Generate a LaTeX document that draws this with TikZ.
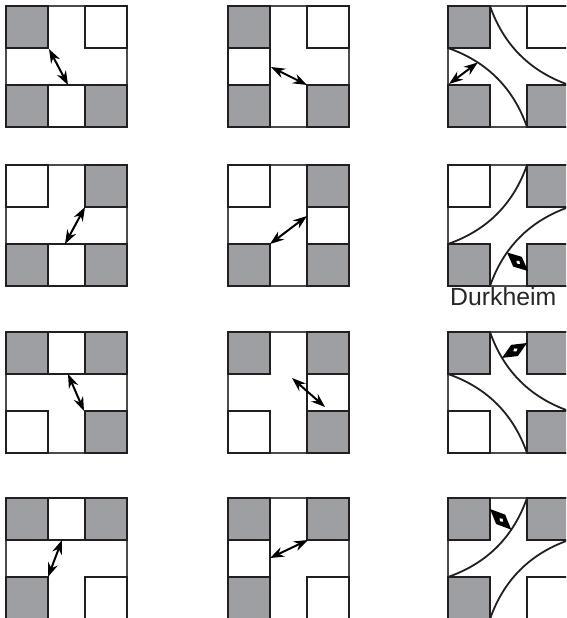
\documentclass[tikz,border=0pt]{standalone}
\usepackage{fontspec}
\newfontfamily\arialfont{Liberation Sans}
\usetikzlibrary{arrows.meta,calc}
\definecolor{sqgray}{HTML}{9D9FA2}
\definecolor{sqedge}{HTML}{231F20}
\newcommand\sqTL[1]{\draw[#1] (0,0) rectangle (42,42);}
\newcommand\sqTM[1]{\draw[#1] (42,0) rectangle (79,42);}
\newcommand\sqTR[1]{\draw[#1] (79,0) rectangle (121,42);}
\newcommand\sqML[1]{\draw[#1] (0,42) rectangle (42,79);}
\newcommand\sqMR[1]{\draw[#1] (79,42) rectangle (121,79);}
\newcommand\sqBL[1]{\draw[#1] (0,79) rectangle (42,121);}
\newcommand\sqBM[1]{\draw[#1] (42,79) rectangle (79,121);}
\newcommand\sqBR[1]{\draw[#1] (79,79) rectangle (121,121);}
\newcommand\pframe{\draw[frame] (0,0) rectangle (121,121);}
\newcommand\kitearrow[2]{%
  \fill[black] (#1) -- ($(#1)!0.5!(#2)!6.5pt!90:(#2)$) -- (#2) -- ($(#1)!0.5!(#2)!6.5pt!-90:(#2)$) -- cycle;
  \fill[white] ($(#1)!0.45!(#2)$) -- ($(#1)!0.53!(#2)!1.8pt!90:(#2)$) -- ($(#1)!0.62!(#2)$) -- ($(#1)!0.53!(#2)!1.8pt!-90:(#2)$) -- cycle;}
\begin{document}
\begin{tikzpicture}[x=1pt,y=-1pt,
  frame/.style={draw=black!70,line width=1.2pt,fill=white},
  gsq/.style={draw=sqedge,line width=2pt,fill=sqgray},
  wsq/.style={draw=sqedge,line width=2pt,fill=white},
  curve/.style={draw=sqedge,line width=1.8pt},
  dbl/.style={{Stealth[length=14pt,width=10pt]}-{Stealth[length=14pt,width=10pt]},line width=2pt,draw=black}]
\useasboundingbox (0,0) rectangle (566,618);
\clip (0,0) rectangle (566,618);
\fill[white] (0,0) rectangle (566,618);

% Row 1
\begin{scope}[shift={(6,6)}]
  \pframe \sqTL{gsq} \sqTR{wsq} \sqBL{gsq} \sqBM{wsq} \sqBR{gsq}
  \coordinate (p11a) at (43,43); \coordinate (p11b) at (62,79);
  \draw[dbl] (p11a) -- (p11b);
\end{scope}
\begin{scope}[shift={(228,6)}]
  \pframe \sqTL{gsq} \sqTR{wsq} \sqML{wsq} \sqBL{gsq} \sqBR{gsq}
  \coordinate (p12a) at (43,61); \coordinate (p12b) at (79,79);
  \draw[dbl] (p12a) -- (p12b);
\end{scope}
\begin{scope}[shift={(448,6)}]
  \pframe \sqTL{gsq} \sqTR{wsq} \sqBL{gsq} \sqBR{gsq}
  \draw[curve] (42,0) .. controls (55.67,39) and (82,65.33) .. (121,79);
  \draw[curve] (0,42) .. controls (39,55.67) and (65.33,82) .. coordinate[pos=0.28] (p13a) (79,121);
  \coordinate (p13b) at (1,78);
  \draw[dbl] (p13a) -- (p13b);
\end{scope}

% Row 2
\begin{scope}[shift={(6,165)}]
  \pframe \sqTL{wsq} \sqTR{gsq} \sqBL{gsq} \sqBM{wsq} \sqBR{gsq}
  \coordinate (p21a) at (79,42); \coordinate (p21b) at (59,79);
  \draw[dbl] (p21a) -- (p21b);
\end{scope}
\begin{scope}[shift={(228,165)}]
  \pframe \sqTL{wsq} \sqTR{gsq} \sqMR{wsq} \sqBL{gsq} \sqBR{gsq}
  \coordinate (p22a) at (42,79); \coordinate (p22b) at (79,51);
  \draw[dbl] (p22a) -- (p22b);
\end{scope}
\begin{scope}[shift={(448,165)}]
  \pframe \sqTL{wsq} \sqTR{gsq} \sqBL{gsq} \sqBR{gsq}
  \draw[curve] (79,0) .. controls (65.33,39) and (39,65.33) .. (0,79);
  \draw[curve] (42,121) .. controls (55.67,82) and (82,55.67) .. coordinate[pos=0.32] (p23a) (121,42);
  \coordinate (p23b) at (80,106);
  \kitearrow{p23a}{p23b}
\end{scope}
\node[anchor=base west,inner sep=0pt,font=\arialfont\fontsize{24.8}{28}\selectfont,text=black!85] (durk) at (450,305) {Durkheim};

% Row 3
\begin{scope}[shift={(6,332)}]
  \pframe \sqTL{gsq} \sqTM{wsq} \sqTR{gsq} \sqBL{wsq} \sqBR{gsq}
  \coordinate (p31a) at (62,42); \coordinate (p31b) at (78,79);
  \draw[dbl] (p31a) -- (p31b);
\end{scope}
\begin{scope}[shift={(228,332)}]
  \pframe \sqTL{gsq} \sqTR{gsq} \sqMR{wsq} \sqBL{wsq} \sqBR{gsq}
  \coordinate (p32a) at (64,46); \coordinate (p32b) at (97,75);
  \draw[dbl] (p32a) -- (p32b);
\end{scope}
\begin{scope}[shift={(448,332)}]
  \pframe \sqTL{gsq} \sqTR{gsq} \sqBL{wsq} \sqBR{gsq}
  \draw[curve] (42,0) .. controls (55.67,39) and (82,65.33) .. coordinate[pos=0.24] (p33a) (121,79);
  \draw[curve] (0,42) .. controls (39,55.67) and (65.33,82) .. (79,121);
  \coordinate (p33b) at (79,11);
  \kitearrow{p33a}{p33b}
\end{scope}

% Row 4
\begin{scope}[shift={(6,498)}]
  \pframe \sqTL{gsq} \sqTM{wsq} \sqTR{gsq} \sqBL{gsq} \sqBR{wsq}
  \coordinate (p41a) at (56,42); \coordinate (p41b) at (42,79);
  \draw[dbl] (p41a) -- (p41b);
\end{scope}
\begin{scope}[shift={(228,498)}]
  \pframe \sqTL{gsq} \sqTR{gsq} \sqML{wsq} \sqBL{gsq} \sqBR{wsq}
  \coordinate (p42a) at (42,60); \coordinate (p42b) at (80,42);
  \draw[dbl] (p42a) -- (p42b);
\end{scope}
\begin{scope}[shift={(448,498)}]
  \pframe \sqTL{gsq} \sqTR{gsq} \sqBL{gsq} \sqBR{wsq}
  \draw[curve] (79,0) .. controls (65.33,39) and (39,65.33) .. coordinate[pos=0.3] (p43b) (0,79);
  \draw[curve] (42,121) .. controls (55.67,82) and (82,55.67) .. (121,42);
  \coordinate (p43a) at (42,11);
  \kitearrow{p43a}{p43b}
\end{scope}
\end{tikzpicture}
\end{document}
